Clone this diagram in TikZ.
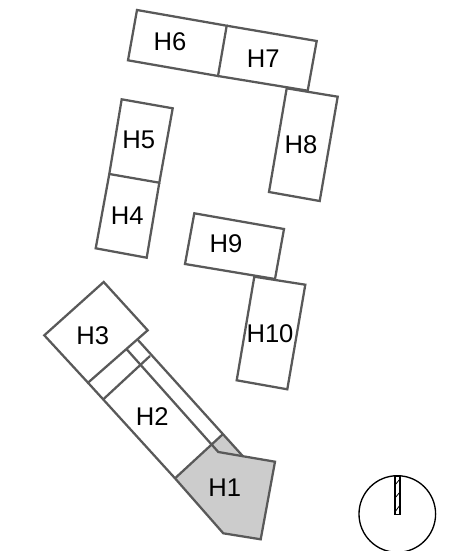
\documentclass[tikz,border=0pt]{standalone}
\usepackage{fontspec}
\setmainfont{Liberation Sans}
\definecolor{wallgray}{HTML}{595959}
\definecolor{roofgray}{HTML}{CCCCCC}
\tikzset{
  wall/.style={draw=wallgray,line width=1.7pt,line join=miter},
  label/.style={black,inner sep=0pt,font=\fontsize{19.2}{19.2}\selectfont},
  dial/.style={draw=black,line width=1pt}
}
\begin{document}
\begin{tikzpicture}[x=0.75pt,y=-0.75pt]
\useasboundingbox (0,0) rectangle (459,551);
% upper row
\draw [wall] (137,10) --(226.7,25.7) --(218,76) --(128,60.3) --cycle;
\draw [wall] (226.7,25.7) --(316.7,41) --(307.7,90.7) --(218,76);
\draw [wall] (286.7,88.3) --(337.7,96.7) --(319.7,201) --(269,192) --cycle;
% left pair
\draw [wall] (121.7,99.3) --(172.7,108.3) --(159.3,182.7) --(109.3,174) --cycle;
\draw [wall] (109.3,174) --(95.7,248.3) --(146.7,257.7) --(159.3,182.7);
% middle pair
\draw [wall] (194.3,213.3) --(284,229) --(275,279) --(185,264) --cycle;
\draw [wall] (254.3,276.7) --(305.3,284.7) --(287.3,389.3) --(236.7,380.3) --cycle;
% shaded part
\fill [roofgray] (211.7,445) --(222.7,434.3) --(242.7,456) --(218.3,452) --cycle;
\fill [roofgray] (175,478.3) --(211.7,445) --(218.3,452) --(275,461.7) --(260.7,539.3) --(223.3,533.3) --cycle;
% long block
\draw [wall] (103.7,282) --(147.7,330.3) --(88,382.7) --(44.3,335.3) --cycle;
\draw [wall] (88,382.7) --(175,478.3) --(223.3,533.3) --(260.7,539.3) --(275,461.7) --(218.3,452) --(126.7,349.3);
\draw [wall] (137.7,339.7) --(242.7,456);
\draw [wall] (103.3,399.3) --(150,356);
\draw [wall] (175,478.3) --(222.7,434.3);
% north mark
\draw [dial] (397.3,514) circle (38.3);
\draw [dial,line width=0.8pt] (395,476) rectangle (400,514.3);
\draw [dial,line width=0.6pt] (395,485) --(400,479);
\draw [dial,line width=0.6pt] (395,498) --(400,492);
\draw [dial,line width=0.6pt] (395,512) --(400,505);
% labels
\node [label] (h1) at (224.7,487.7) {H1};
\node [label] (h2) at (152.3,417) {H2};
\node [label] (h3) at (92.7,335.7) {H3};
\node [label] (h4) at (127.3,215.7) {H4};
\node [label] (h5) at (138.7,140) {H5};
\node [label] (h6) at (170,42) {H6};
\node [label] (h7) at (263.3,58.7) {H7};
\node [label] (h8) at (301,145) {H8};
\node [label] (h9) at (226,243.3) {H9};
\node [label] (h10) at (270,334) {H10};
\end{tikzpicture}
\end{document}
